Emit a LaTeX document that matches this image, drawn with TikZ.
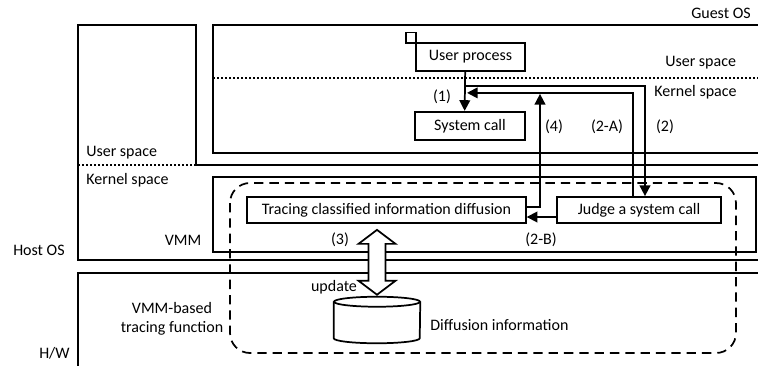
\documentclass[tikz,border=0pt]{standalone}
\usepackage{fontspec}
\setmainfont{Carlito}
\usetikzlibrary{arrows.meta,positioning,calc}

\begin{document}
\begin{tikzpicture}[x=0.75pt, y=-0.75pt,
    font=\fontsize{12}{14}\selectfont,
    wall/.style={line width=1.3pt},
    dotline/.style={line width=1.5pt, dash pattern=on 1.5pt off 1.5pt},
    box/.style={draw, line width=1.3pt, fill=white, inner sep=0pt},
    lbl/.style={inner sep=0pt},
    conn/.style={line width=1.3pt, -{Triangle[length=8pt,width=8pt]}}]
\useasboundingbox (0,0) rectangle (758,365);

% layers
\draw[wall] (758,165) -- (196,165) -- (196,25) -- (78,25) -- (78,260) -- (758,260);
\draw[dotline] (78,165) -- (210,165);
\draw[wall] (758,25) -- (213,25) -- (213,153) -- (758,153);
\draw[dotline] (213,78) -- (758,78);
\draw[wall] (213,177) rectangle (756,252);
\draw[wall] (758,273) -- (78,273) -- (78,366);

\node[lbl, anchor=east] (guest) at (751,13) {Guest OS};
\node[lbl, anchor=west] (gus) at (665,63) {User space};
\node[lbl, anchor=west] (gks) at (654,92) {Kernel space};
\node[lbl, anchor=west] (hus) at (86,153) {User space};
\node[lbl, anchor=west] (hks) at (86,180) {Kernel space};
\node[lbl] (vmm) at (183,240) {VMM};
\node[lbl, anchor=west] (host) at (13,250) {Host OS};
\node[lbl, anchor=west] (hw) at (39,353) {H/W};
\node[lbl, align=center] (func) at (172,319) {VMM-based\\tracing function};

% guest side
\node[draw, line width=1pt, minimum width=7.5pt, minimum height=8pt, inner sep=0pt] (proc) at (411,37.5) {};
\node[box, minimum width=81.75pt, minimum height=21pt] (up) at (470.5,57) {User process};
\node[box, line width=1.7pt, minimum width=82.5pt, minimum height=21pt] (sc) at (470,126) {System call};

% vmm side
\node[box, minimum width=209pt, minimum height=19.5pt] (trc) at (386.5,210) {Tracing classified information diffusion};
\node[box, minimum width=123pt, minimum height=19.5pt] (jd) at (639,210) {Judge a system call};
\node[minimum width=64.5pt, minimum height=34.5pt, inner sep=0pt] (cyl) at (377,320) {};
\draw[wall, fill=white] ($(cyl.north west)+(0,5)$) -- ($(cyl.south west)+(0,-5)$)
  arc[start angle=180, end angle=360, x radius=32.25pt, y radius=3.75pt] -- ($(cyl.north east)+(0,5)$);
\draw[wall] ($(cyl.north)+(0,5)$) ellipse[x radius=32.25pt, y radius=3.75pt];
\node[lbl, anchor=west] (dinfo) at (430,325) {Diffusion information};

% flows
\coordinate (tap) at ($(up.south)+(-5.5,14)$);
\draw[conn] ([xshift=-4pt]up.south) -- ([xshift=-4pt]sc.north);
\draw[conn] (tap) -| ([xshift=4.5pt]jd.north);
\draw[conn] ([xshift=-4.5pt]jd.north) |- ($(tap)+(2,7)$);
\draw[conn] ([yshift=2.25pt]trc.east) -| ($(tap)+(75,8)$);
\draw[conn] ([yshift=-5.25pt]jd.west) -- ([yshift=-5.25pt]trc.east);

\coordinate (dt) at ($(cyl.north |- trc.south)+(0,6)$);
\coordinate (db) at ($(cyl.north)+(0,-2)$);
\draw[line width=1.3pt, fill=white] (dt) -- ++(18.5,14) -- ++(-10,0) -- ($(db)+(8.5,-14)$) -- ++(10,0)
  -- (db) -- ++(-18.5,-14) -- ++(10,0) -- ($(dt)+(-8.5,14)$) -- ++(-10,0) -- cycle;

\node[lbl] (l1) at (442,97) {(1)};
\node[lbl] (l4) at (554,127) {(4)};
\node[lbl] (l2a) at (607,127) {(2-A)};
\node[lbl] (l2) at (665,127) {(2)};
\node[lbl] (l2b) at (541,240) {(2-B)};
\node[lbl] (l3) at (340,240) {(3)};
\node[lbl] (upd) at (334,287) {update};

% tracing function boundary
\draw[line width=1.3pt, dash pattern=on 7pt off 4.5pt, rounded corners=15pt] (230,183) rectangle (736,353);
\end{tikzpicture}
\end{document}
